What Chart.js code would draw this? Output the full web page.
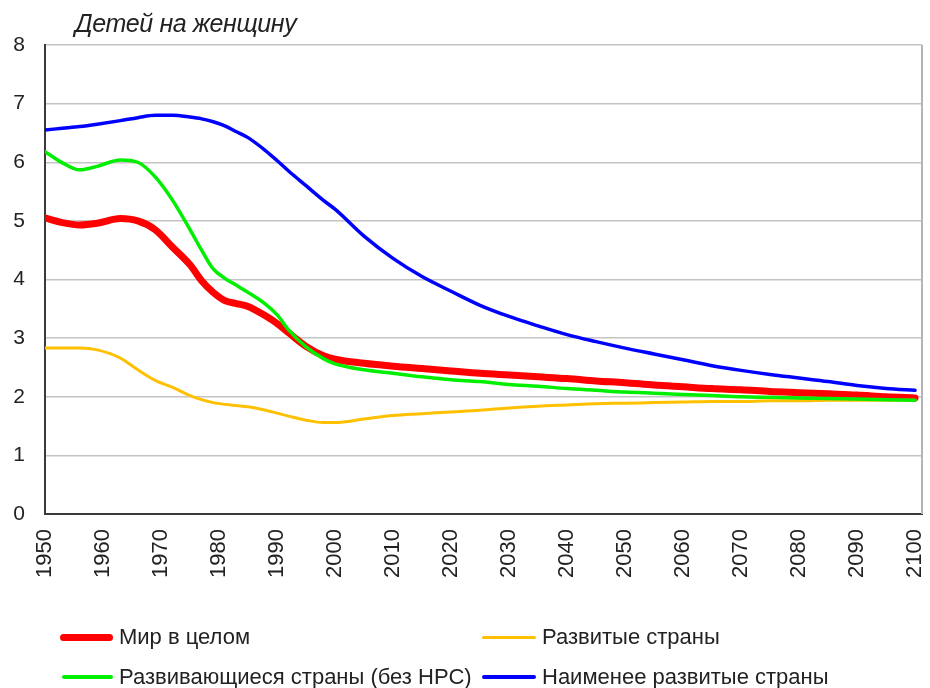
<!DOCTYPE html>
<html>
<head>
<meta charset="utf-8">
<script src="https://cdn.jsdelivr.net/npm/chart.js@4/dist/chart.umd.min.js"></script>
<style>
	html, body { margin: 0; padding: 0; background: #fff; }
	#wrap { position: relative; width: 930px; height: 688px; font-family: "Liberation Sans", Arial, sans-serif; color: #222; }
	#chart { position: absolute; left: 0; top: 0; }
	.title { position: absolute; left: 75px; top: 9px; font-size: 25px; font-style: italic; letter-spacing: -0.4px; white-space: nowrap; }
	.leg { position: absolute; font-size: 22px; white-space: nowrap; line-height: 24px; }
	.sw { position: absolute; border-radius: 4px; }
</style>
</head>
<body>
<div id="wrap">
	<canvas id="chart" width="930" height="688"></canvas>
	<div class="title">Детей на женщину</div>
	<div id="legend"></div>
</div>
<script>
var years = [1950,1953,1956,1959,1963,1966,1969,1972,1975,1977,1979,1981,1983,1985,1988,1990,1992,1995,1998,2000,2005,2010,2015,2020,2025,2030,2035,2040,2045,2050,2055,2060,2065,2070,2075,2080,2085,2090,2095,2100];
var world = [5.05,4.97,4.93,4.96,5.04,5.00,4.85,4.55,4.25,3.98,3.78,3.64,3.59,3.54,3.38,3.25,3.09,2.86,2.70,2.64,2.57,2.52,2.48,2.44,2.40,2.37,2.34,2.31,2.27,2.24,2.20,2.17,2.14,2.12,2.09,2.07,2.05,2.03,2.00,1.98];
var developed = [2.83,2.83,2.83,2.80,2.66,2.46,2.28,2.16,2.02,1.95,1.90,1.87,1.85,1.83,1.77,1.72,1.67,1.60,1.56,1.56,1.62,1.68,1.71,1.74,1.77,1.81,1.84,1.86,1.88,1.89,1.90,1.91,1.92,1.92,1.93,1.93,1.94,1.94,1.94,1.94];
var developing = [6.18,5.99,5.87,5.93,6.04,6.00,5.75,5.35,4.85,4.50,4.18,4.02,3.90,3.78,3.58,3.40,3.14,2.85,2.65,2.56,2.46,2.40,2.34,2.29,2.26,2.21,2.18,2.14,2.11,2.08,2.06,2.04,2.02,2.00,1.99,1.98,1.97,1.96,1.95,1.94];
var leastDev = [6.55,6.58,6.61,6.65,6.71,6.76,6.80,6.80,6.77,6.74,6.69,6.62,6.52,6.42,6.20,6.03,5.85,5.60,5.35,5.20,4.74,4.36,4.05,3.80,3.56,3.37,3.21,3.06,2.94,2.83,2.73,2.63,2.53,2.45,2.38,2.32,2.26,2.19,2.14,2.11];
var tickYears = [1950,1960,1970,1980,1990,2000,2010,2020,2030,2040,2050,2060,2070,2080,2090,2100];
var seriesNames = ['Мир  в целом', 'Развитые страны', 'Развивающиеся  страны (без НРС)', 'Наименее  развитые страны'];

function pts(vals){ return vals.map(function(v, i){ return {x: years[i], y: v}; }); }

var frame = {
	id: 'frame',
	afterDatasetsDraw: function(chart){
		var a = chart.chartArea, c = chart.ctx;
		c.save();
		c.strokeStyle = '#b4b4b4';
		c.lineWidth = 2;
		c.beginPath();
		c.moveTo(a.right, a.top);
		c.lineTo(a.right, a.bottom);
		c.stroke();
		c.restore();
	}
};

new Chart(document.getElementById('chart'), {
	type: 'line',
	data: {
		datasets: [
			{ label: seriesNames[0], data: pts(world), borderColor: '#ff0000', borderWidth: 7, order: 4 },
			{ label: seriesNames[1], data: pts(developed), borderColor: '#ffc000', borderWidth: 3, order: 3 },
			{ label: seriesNames[2], data: pts(developing), borderColor: '#00ee00', borderWidth: 3.5, order: 2 },
			{ label: seriesNames[3], data: pts(leastDev), borderColor: '#0000ff', borderWidth: 3.5, order: 1 }
		]
	},
	options: {
		responsive: false,
		animation: false,
		events: [],
		layout: { padding: { top: 45, right: 8, bottom: 0, left: 0 } },
		elements: { point: { radius: 0 }, line: { cubicInterpolationMode: 'monotone', borderCapStyle: 'round', borderJoinStyle: 'round' } },
		plugins: { legend: { display: false }, tooltip: { enabled: false } },
		scales: {
			x: {
				type: 'linear', min: 1950, max: 2101.2,
				afterBuildTicks: function(s){ s.ticks = tickYears.map(function(v){ return {value: v}; }); },
				afterFit: function(s){ s.height = 174; s.paddingLeft = 0; s.paddingRight = 0; },
				grid: { display: false, drawTicks: false },
				border: { color: '#3a3a3a', width: 2 },
				ticks: { minRotation: 90, maxRotation: 90, padding: 15, color: '#222', font: { family: 'Liberation Sans', size: 22 }, callback: function(v){ return String(v); } }
			},
			y: {
				min: 0, max: 8,
				afterFit: function(s){ s.width = 45; s.paddingTop = 0; s.paddingBottom = 0; },
				grid: { color: '#c4c4c4', lineWidth: 1.5, drawTicks: false },
				border: { color: '#3a3a3a', width: 2 },
				ticks: { stepSize: 1, padding: 20, color: '#222', font: { family: 'Liberation Sans', size: 21 } }
			}
		}
	},
	plugins: [frame]
});

// legend below the plot
var legendItems = [
	{ name: seriesNames[0], color: '#ff0000', h: 7, x: 60, w: 53, y: 637 },
	{ name: seriesNames[1], color: '#ffc000', h: 3, x: 482, w: 54, y: 637 },
	{ name: seriesNames[2], color: '#00ee00', h: 3.5, x: 62, w: 51, y: 677 },
	{ name: seriesNames[3], color: '#0000ff', h: 3.5, x: 482, w: 54, y: 677 }
];
var lg = document.getElementById('legend');
legendItems.forEach(function(it){
	var sw = document.createElement('div');
	sw.className = 'sw';
	sw.style.cssText = 'left:' + it.x + 'px;top:' + (it.y - it.h / 2) + 'px;width:' + it.w + 'px;height:' + it.h + 'px;background:' + it.color;
	lg.appendChild(sw);
	var t = document.createElement('div');
	t.className = 'leg';
	t.style.left = (it.x + it.w + 6) + 'px';
	t.style.top = (it.y - 12) + 'px';
	t.textContent = it.name;
	lg.appendChild(t);
});
</script>
</body>
</html>
